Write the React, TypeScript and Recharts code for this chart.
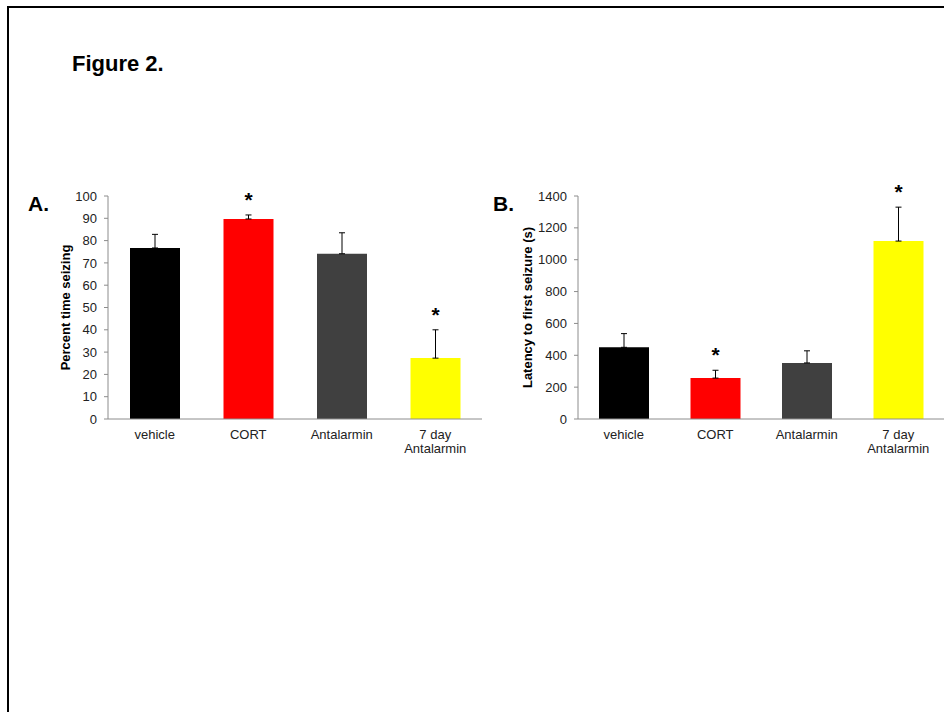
import React from "react";
import { BarChart, Bar, XAxis, YAxis, ErrorBar, Cell, LabelList } from "recharts";

const groups = ["vehicle", "CORT", "Antalarmin", "7 day\nAntalarmin"];
const barColors = ["#000000", "#ff0000", "#404040", "#ffff00"];
const significant = [false, true, false, true];

// A: percent time seizing
const percentSeizing = [76.7, 89.7, 74.1, 27.3];
const percentSem = [6.1, 1.8, 9.4, 12.7];
const percentTicks = [0, 10, 20, 30, 40, 50, 60, 70, 80, 90, 100];

// B: latency to first seizure
const latency = [450, 257, 352, 1117];
const latencySem = [86, 49, 76, 213];
const latencyTicks = [0, 200, 400, 600, 800, 1000, 1200, 1400];

const FONT = "'Liberation Sans', Arial, sans-serif";
const AXIS = "#8c8c8c";

type Row = { group: string; value: number; err: [number, number]; sig: boolean };

const makeRows = (vals: number[], sem: number[]): Row[] =>
  groups.map((g, i) => ({ group: g, value: vals[i], err: [0, sem[i]], sig: significant[i] }));

const rowsA = makeRows(percentSeizing, percentSem);
const rowsB = makeRows(latency, latencySem);

function GroupTick({ x, y, payload }: any) {
  const lines = String(payload.value).split("\n");
  return (
    <text x={x} y={y} textAnchor="middle" fontSize={13} fill="#222" fontFamily={FONT}>
      {lines.map((l, i) => (
        <tspan key={i} x={x} dy={i === 0 ? "0.71em" : 14}>
          {l}
        </tspan>
      ))}
    </text>
  );
}

// asterisk sits just above the top of the error bar
const starLabel = (rows: Row[]) => (props: any) => {
  const vb = props.viewBox ?? props;
  const x = props.x ?? vb.x;
  const y = props.y ?? vb.y;
  const width = props.width ?? vb.width;
  const height = props.height ?? vb.height;
  const row = rows[props.index];
  if (!row || !row.sig) return null;
  const errTop = y - height * (row.err[1] / row.value);
  return (
    <text x={x + width / 2} y={errTop - 8} textAnchor="middle" fontSize={21} fontWeight="bold" fill="#000" fontFamily={FONT}>
      *
    </text>
  );
};

function Panel({ rows, ticks, title, width, marginLeft, labelOffset }: any) {
  return (
    <BarChart
      width={width}
      height={290}
      data={rows}
      margin={{ top: 16, right: 0, bottom: 21, left: marginLeft }}
    >
      <XAxis
        dataKey="group"
        interval={0}
        height={30}
        axisLine={{ stroke: AXIS }}
        tickLine={false}
        tickSize={0}
        tickMargin={11}
        tick={<GroupTick />}
      />
      <YAxis
        width={60}
        domain={[ticks[0], ticks[ticks.length - 1]]}
        ticks={ticks}
        interval={0}
        axisLine={{ stroke: AXIS }}
        tickLine={{ stroke: AXIS }}
        tickSize={4}
        tickMargin={7}
        tick={{ fontSize: 13, fill: "#222", fontFamily: FONT }}
        label={{
          value: title,
          angle: -90,
          position: "insideLeft",
          offset: labelOffset,
          style: { textAnchor: "middle", fontWeight: "bold", fontSize: 13, fill: "#000", fontFamily: FONT },
        }}
      />
      <Bar dataKey="value" barSize={50} isAnimationActive={false}>
        {rows.map((_: Row, i: number) => (
          <Cell key={i} fill={barColors[i]} />
        ))}
        <ErrorBar dataKey="err" direction="y" width={3} stroke="#000" strokeWidth={1} />
        <LabelList dataKey="sig" content={starLabel(rows)} />
      </Bar>
    </BarChart>
  );
}

export default function App() {
  return (
    <div
      style={{
        position: "absolute",
        left: 0,
        top: 0,
        width: 944,
        height: 712,
        background: "#fff",
        overflow: "hidden",
        fontFamily: FONT,
      }}
    >
      <div
        style={{
          position: "absolute",
          left: 7,
          top: 6,
          width: 980,
          height: 760,
          borderTop: "2px solid #000",
          borderLeft: "2px solid #000",
        }}
      />
      <svg width={944} height={712} style={{ position: "absolute", left: 0, top: 0 }}>
        <text x={72} y={71} fontSize={22} fontWeight="bold" fontFamily={FONT}>
          Figure 2.
        </text>
        <text x={28} y={211} fontSize={21} fontWeight="bold" fontFamily={FONT}>
          A.
        </text>
        <text x={493} y={211} fontSize={21} fontWeight="bold" fontFamily={FONT}>
          B.
        </text>
      </svg>
      <div style={{ position: "absolute", left: 20, top: 180 }}>
        <Panel rows={rowsA} ticks={percentTicks} title="Percent time seizing" width={462} marginLeft={28} labelOffset={17} />
      </div>
      <div style={{ position: "absolute", left: 480, top: 180 }}>
        <Panel rows={rowsB} ticks={latencyTicks} title="Latency to first seizure (s)" width={464} marginLeft={38} labelOffset={9} />
      </div>
    </div>
  );
}
